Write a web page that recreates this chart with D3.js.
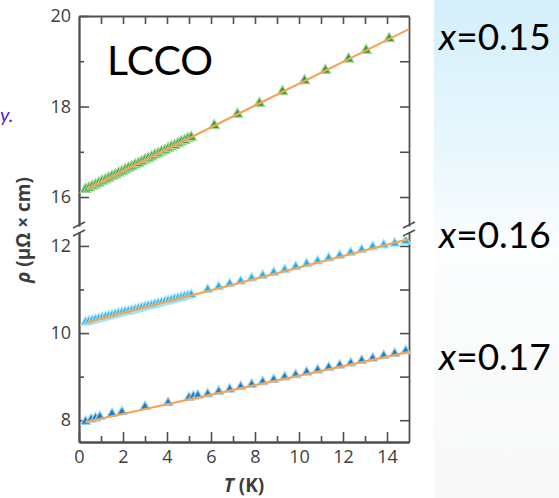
<!DOCTYPE html>
<html>
<head>
<meta charset="utf-8">
<script src="https://cdn.jsdelivr.net/npm/d3@7"></script>
<style>
  body { margin: 0; background: #fff; }
  svg { display: block; }
  .tick text { font-family: "Open Sans", sans-serif; font-size: 18px; fill: #3d3d3d; }
</style>
</head>
<body>
<svg id="chart" width="559" height="498"></svg>
<script>
// T (K) for the dense low-T runs of x=0.15 and x=0.16
const denseT = [0.30, 0.45, 0.60, 0.75, 0.90, 1.05, 1.20, 1.35, 1.50, 1.65, 1.80,
  1.95, 2.10, 2.25, 2.40, 2.55, 2.70, 2.85, 3.00, 3.15, 3.30, 3.45, 3.60, 3.75,
  3.90, 4.05, 4.20, 4.35, 4.50, 4.65, 4.80, 4.95, 5.10];
const rho15Dense = [16.17, 16.20, 16.24, 16.27, 16.31, 16.35, 16.38, 16.42, 16.46,
  16.49, 16.53, 16.56, 16.60, 16.64, 16.67, 16.71, 16.74, 16.78, 16.82, 16.85,
  16.89, 16.93, 16.96, 17.00, 17.03, 17.07, 17.11, 17.14, 17.18, 17.22, 17.25,
  17.29, 17.32];
const rho16Dense = [10.25, 10.27, 10.29, 10.31, 10.33, 10.35, 10.37, 10.39, 10.41,
  10.43, 10.45, 10.47, 10.49, 10.50, 10.52, 10.54, 10.56, 10.58, 10.60, 10.62,
  10.64, 10.66, 10.68, 10.70, 10.72, 10.74, 10.76, 10.78, 10.80, 10.82, 10.84,
  10.86, 10.88];

// x=0.15 sparse points above 5 K
const t15Sparse = [6.15, 7.2, 8.2, 9.25, 10.25, 11.2, 12.25, 13.05, 14.1];
const rho15Sparse = [17.58, 17.83, 18.07, 18.33, 18.57, 18.80, 19.05, 19.24, 19.50];

// x=0.16 and x=0.17 share the half-kelvin grid above 5 K
const tSparse = [5.85, 6.35, 6.85, 7.35, 7.85, 8.35, 8.85, 9.35, 9.85, 10.35,
  10.85, 11.35, 11.85, 12.35, 12.85, 13.35, 13.85, 14.35, 14.85];
const rho16Sparse = [11.00, 11.06, 11.13, 11.19, 11.26, 11.32, 11.39, 11.45, 11.52,
  11.59, 11.65, 11.72, 11.78, 11.85, 11.91, 11.98, 12.02, 12.06, 12.11];
const rho17Sparse = [8.60, 8.66, 8.71, 8.77, 8.82, 8.88, 8.93, 8.99, 9.04, 9.10,
  9.15, 9.21, 9.26, 9.31, 9.37, 9.42, 9.48, 9.53, 9.59];

// x=0.17 low-T points
const t17Low = [0.30, 0.55, 0.75, 0.95, 1.50, 1.95, 3.00, 4.05, 5.00, 5.20, 5.40];
const rho17Low = [7.97, 8.02, 8.05, 8.08, 8.15, 8.19, 8.31, 8.40, 8.52, 8.55, 8.57];

// linear fits: [T start, rho start, T end, rho end]
const fit15 = [0.4, 16.19, 15, 19.71];
const fit16 = [0.4, 10.25, 15, 12.16];
const fit17 = [0.3, 7.96, 15, 9.57];

const upperTicks = [16, 18, 20];
const upperMinor = [17, 19];
const lowerTicks = [8, 10, 12];
const lowerMinor = [9, 11];
const xTicks = [0, 2, 4, 6, 8, 10, 12, 14];
const xMinor = [1, 3, 5, 7, 9, 11, 13];
const xTop = [1, 2, 3, 4, 5, 6, 7, 8, 9, 10, 11, 12, 13, 14];
const labels = ["x=0.15", "x=0.16", "x=0.17"];

const svg = d3.select("#chart");
const pL = 79, pR = 409, pT = 16, pB = 442;

const x = d3.scaleLinear().domain([0, 15]).range([pL, pR]);
const yUp = d3.scaleLinear().domain([15.36, 20]).range([226, pT]);
const yLo = d3.scaleLinear().domain([7.5, 12.32]).range([pB, 232]);

// right-hand panel with pale blue fade
const defs = svg.append("defs");
const grad = defs.append("linearGradient").attr("id", "fade")
  .attr("x1", 0).attr("y1", 0).attr("x2", 0).attr("y2", 1);
grad.append("stop").attr("offset", "0%").attr("stop-color", "#d3effb");
grad.append("stop").attr("offset", "30%").attr("stop-color", "#e9f7fd");
grad.append("stop").attr("offset", "50%").attr("stop-color", "#fbfdfe");
grad.append("stop").attr("offset", "100%").attr("stop-color", "#f8f8f8");
svg.append("rect").attr("x", 434).attr("y", 0).attr("width", 125).attr("height", 498)
  .attr("fill", "url(#fade)");

const axisColor = "#4f4f4f";
const fmt = d3.format("d");
const styleAxis = (g) => {
  g.selectAll(".domain").attr("stroke", axisColor).attr("stroke-width", 1.8);
  g.selectAll(".tick line").attr("stroke", axisColor).attr("stroke-width", 1.6);
};

// left axis (two segments)
[[yUp, upperTicks, upperMinor], [yLo, lowerTicks, lowerMinor]].forEach(([sc, maj, mnr]) => {
  svg.append("g").attr("transform", `translate(${pL},0)`)
    .call(d3.axisLeft(sc).tickValues(maj).tickFormat(fmt)
      .tickSizeInner(-10).tickSizeOuter(0).tickPadding(8))
    .call(styleAxis);
  svg.append("g").attr("transform", `translate(${pL},0)`)
    .call(d3.axisLeft(sc).tickValues(mnr).tickSizeInner(-5).tickSizeOuter(0).tickFormat(""))
    .call(styleAxis);
  svg.append("g").attr("transform", `translate(${pR},0)`)
    .call(d3.axisRight(sc).tickValues(maj.concat(mnr)).tickSizeInner(-9).tickSizeOuter(0).tickFormat(""))
    .call(styleAxis);
});

// bottom and top axes
svg.append("g").attr("transform", `translate(0,${pB})`)
  .call(d3.axisBottom(x).tickValues(xTicks).tickFormat(fmt)
    .tickSizeInner(-10).tickSizeOuter(0).tickPadding(8))
  .call(styleAxis);
svg.append("g").attr("transform", `translate(0,${pB})`)
  .call(d3.axisBottom(x).tickValues(xMinor).tickSizeInner(-6).tickSizeOuter(0).tickFormat(""))
  .call(styleAxis);
svg.append("g").attr("transform", `translate(0,${pT})`)
  .call(d3.axisTop(x).tickValues(xTop).tickSizeInner(-8).tickSizeOuter(0).tickFormat(""))
  .call(styleAxis);

// break marks
[pL, pR].forEach((ax) => {
  [225, 233].forEach((yy) => {
    svg.append("line")
      .attr("x1", ax - 6).attr("y1", yy + 3).attr("x2", ax + 6).attr("y2", yy - 3)
      .attr("stroke", axisColor).attr("stroke-width", 1.6);
  });
});

// fits
const fitLine = (f, sc) => {
  svg.append("line")
    .attr("x1", x(f[0])).attr("y1", sc(f[1]))
    .attr("x2", x(f[2])).attr("y2", sc(f[3]))
    .attr("stroke", "#f7a457").attr("stroke-width", 2.2);
};

const tri = (size) => d3.symbol().type(d3.symbolTriangle).size(size)();
const drawPts = (ts, rs, sc, fill, halo, size) => {
  svg.append("g").selectAll("path")
    .data(ts.map((t, i) => [t, rs[i]]))
    .join("path")
    .attr("d", tri(size))
    .attr("transform", (d) => `translate(${x(d[0])},${sc(d[1])})`)
    .attr("fill", fill)
    .attr("stroke", halo)
    .attr("stroke-width", 1.2);
};

drawPts(denseT, rho15Dense, yUp, "#369a34", "#9fd79a", 48);
drawPts(t15Sparse, rho15Sparse, yUp, "#369a34", "#9fd79a", 48);
fitLine(fit15, yUp);

drawPts(denseT, rho16Dense, yLo, "#1fb1ea", "#a6e2f8", 40);
drawPts(tSparse, rho16Sparse, yLo, "#1fb1ea", "#a6e2f8", 40);
fitLine(fit16, yLo);

drawPts(t17Low, rho17Low, yLo, "#1a7fc6", "#9fd0ef", 40);
drawPts(tSparse, rho17Sparse, yLo, "#1a7fc6", "#9fd0ef", 40);
fitLine(fit17, yLo);

// axis titles
const xt = svg.append("text").attr("x", 244).attr("y", 492).attr("text-anchor", "middle")
  .attr("font-family", "Open Sans, sans-serif").attr("font-size", 19)
  .attr("font-weight", "bold").attr("fill", "#3d3d3d");
xt.append("tspan").attr("font-style", "italic").text("T");
xt.append("tspan").text(" (K)");

const yt = svg.append("text").attr("transform", "translate(30,230) rotate(-90)")
  .attr("text-anchor", "middle")
  .attr("font-family", "Open Sans, sans-serif").attr("font-size", 19)
  .attr("font-weight", "bold").attr("fill", "#3d3d3d");
yt.append("tspan").attr("font-style", "italic").text("ρ");
yt.append("tspan").text(" (μΩ × cm)");

// sample name
svg.append("text").attr("x", 107).attr("y", 75)
  .attr("font-family", "Lato, sans-serif").attr("font-size", 41).attr("fill", "#000")
  .text("LCCO");

// doping labels
const labelY = [50, 248, 370];
labels.forEach((s, i) => {
  const t = svg.append("text").attr("x", 439).attr("y", labelY[i])
    .attr("font-family", "Lato, sans-serif").attr("font-size", 37).attr("fill", "#000");
  t.append("tspan").attr("font-style", "italic").text(s.slice(0, 1));
  t.append("tspan").text(s.slice(1));
});

// fragment of neighbouring text on the left edge
svg.append("text").attr("x", 0).attr("y", 122)
  .attr("font-family", "Lato, sans-serif").attr("font-size", 20)
  .attr("font-style", "italic").attr("fill", "#5522d8")
  .text("y.");
</script>
</body>
</html>
